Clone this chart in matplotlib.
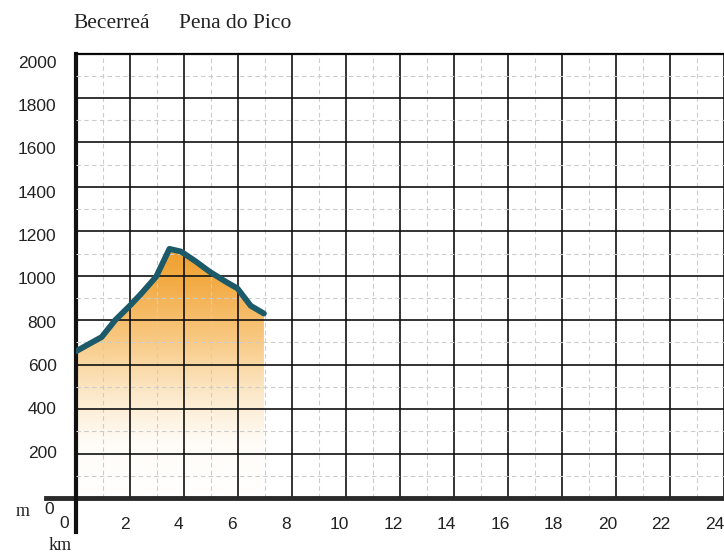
import numpy as np
import matplotlib
matplotlib.use('Agg')
import matplotlib.pyplot as plt
from matplotlib.colors import LinearSegmentedColormap
from matplotlib.patches import Polygon
from matplotlib.lines import Line2D
import matplotlib.transforms as mtransforms

# ---- data ----
distance_km = [0.0, 0.5, 0.95, 1.45, 2.0, 2.42, 2.97, 3.46, 3.89, 4.44, 4.94, 5.55, 5.98, 6.47, 6.96]
elevation_m = [660, 694, 724, 800, 866, 920, 996, 1121, 1109, 1064, 1019, 973, 943, 865, 830]
x_tick_values = [2, 4, 6, 8, 10, 12, 14, 16, 18, 20, 22, 24]
y_tick_values = [200, 400, 600, 800, 1000, 1200, 1400, 1600, 1800, 2000]
title_start = 'Becerreá'
title_end = 'Pena do Pico'
y_unit = 'm'
x_unit = 'km'

W, H = 724, 555
fig = plt.figure(figsize=(W / 100, H / 100), dpi=100)
fig.patch.set_facecolor('white')

ax_left, ax_bottom_px, ax_top_px = 76, 498, 53.5
px_per_km = 27.15
ax = fig.add_axes([ax_left / W, 1 - ax_bottom_px / H, 1 - ax_left / W, (ax_bottom_px - ax_top_px) / H])

# gradient fill clipped to the profile
poly_x = [distance_km[0]] + distance_km + [distance_km[-1]]
poly_y = [0] + elevation_m + [0]
patch = Polygon(np.column_stack([poly_x, poly_y]), closed=True, facecolor='none',
                edgecolor='none', transform=ax.transData)
ax.add_patch(patch)
grad = np.linspace(0, 1, 256)[:, None]
cmap = LinearSegmentedColormap.from_list('g', [
    (0.0, '#ffffff'), (0.22, '#fffcf7'), (0.42, '#fce8c8'),
    (0.65, '#f8c77e'), (0.85, '#f3ad48'), (1.0, '#efa02e')])
im = ax.imshow(grad, extent=[0, max(distance_km), 0, max(elevation_m)], origin='lower',
               cmap=cmap, aspect='auto', zorder=1, interpolation='bilinear')
im.set_clip_path(patch)

ax.plot(distance_km, elevation_m, color='#1c5a6a', lw=4.2, solid_joinstyle='round',
        solid_capstyle='round', zorder=5)

ax.set_xlim(0, (W - ax_left) / px_per_km)
ax.set_ylim(0, 2000)

ax.set_xticks(x_tick_values)
ax.set_xticks(np.arange(1, 25, 2), minor=True)
ax.set_yticks(y_tick_values)
ax.set_yticks(np.arange(100, 2000, 200), minor=True)
ax.set_axisbelow(False)
ax.grid(which='major', color='#111111', lw=1.2)
ax.grid(which='minor', color='#cccccc', lw=0.8, linestyle=(0, (4, 3)))
ax.tick_params(which='both', length=0)
ax.tick_params(axis='x', pad=14)
ax.tick_params(axis='y', pad=14)

num_font = 'Liberation Sans'
ax.set_xticklabels([str(v) for v in x_tick_values], fontsize=12.5, family=num_font, color='#222222')
ax.set_yticklabels([str(v) for v in y_tick_values], fontsize=12.5, family=num_font, color='#222222')
for v, lab in zip(x_tick_values, ax.get_xticklabels()):
    dx = -5 - (v - 2) / 20 * 4
    lab.set_transform(lab.get_transform() + mtransforms.ScaledTranslation(dx / 100, 0, fig.dpi_scale_trans))
for v, lab in zip(y_tick_values, ax.get_yticklabels()):
    dy = -2 + (v - 200) / 1800 * 10
    lab.set_transform(lab.get_transform() + mtransforms.ScaledTranslation(0, -dy / 100, fig.dpi_scale_trans))

for s in ['right', 'bottom']:
    ax.spines[s].set_visible(False)
ax.spines['top'].set_linewidth(1.6)
ax.spines['left'].set_linewidth(3)
ax.spines['left'].set_color('#111111')

# thick baseline extending left, and left axis extending down
fig.add_artist(Line2D([46 / W, 1], [1 - 498 / H, 1 - 498 / H], color='#2a2a2a', lw=3.5,
                      transform=fig.transFigure))
fig.add_artist(Line2D([ax_left / W, ax_left / W], [1 - 498 / H, 1 - 532 / H], color='#111111', lw=3,
                      transform=fig.transFigure))

def ftext(xp, yp, s, **kw):
    fig.text(xp / W, 1 - yp / H, s, **kw)

ftext(73, 23, title_start, fontsize=15.5, family='Liberation Serif', va='center', ha='left', color='#222222')
ftext(179, 23, title_end, fontsize=15.5, family='Liberation Serif', va='center', ha='left', color='#222222')
ftext(23, 512, y_unit, fontsize=13, family='Liberation Serif', va='center', ha='center', color='#222222')
ftext(49.5, 510, '0', fontsize=12.5, family=num_font, va='center', ha='center', color='#222222')
ftext(64, 524, '0', fontsize=12.5, family=num_font, va='center', ha='center', color='#222222')
ftext(60, 546, x_unit, fontsize=13, family='Liberation Serif', va='center', ha='center', color='#222222')

fig.savefig('out.png', dpi=100, facecolor='white')
